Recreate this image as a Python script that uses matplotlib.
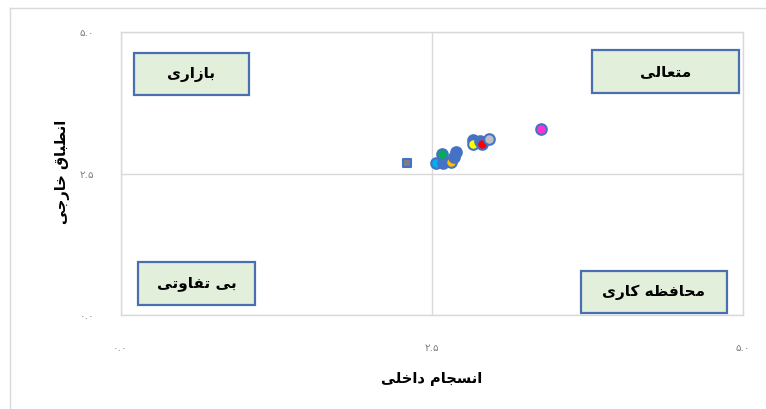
import matplotlib
matplotlib.use("Agg")
import matplotlib.pyplot as plt
from matplotlib.patches import Rectangle
from matplotlib.lines import Line2D
from matplotlib import font_manager
from matplotlib.ft2font import FT2Font

# ---------------- data ----------------
x_vals = [2.305, 2.536, 2.593, 2.582, 2.657, 2.681, 2.697, 2.836, 2.836, 2.89, 2.904, 2.965, 3.38]
y_vals = [2.68, 2.68, 2.685, 2.84, 2.70, 2.80, 2.885, 3.09, 3.03, 3.07, 3.03, 3.11, 3.29]
fill_colors = ["#7F7F7F", "#00B0F0", "#4472C4", "#00B050", "#FFC000", "#4472C4", "#4472C4",
               "#4472C4", "#FFFF00", "#4472C4", "#FF0000", "#BFBFBF", "#FF33CC"]
marker_shapes = ["s"] + ["o"] * 12
tick_values = [0.0, 2.5, 5.0]
tick_labels = ["۰.۰", "۲.۵", "۵.۰"]
quadrant_labels = ["بازاری", "متعالی", "بی تفاوتی", "محافظه کاری"]
x_title = "انسجام داخلی"
y_title = "انطباق خارجی"

# ---------------- minimal Arabic/Persian shaping ----------------
FORMS = {  # iso, fin, ini, med
    "ا": (0xFE8D, 0xFE8E, None, None),
    "ب": (0xFE8F, 0xFE90, 0xFE91, 0xFE92),
    "ت": (0xFE95, 0xFE96, 0xFE97, 0xFE98),
    "ج": (0xFE9D, 0xFE9E, 0xFE9F, 0xFEA0),
    "ح": (0xFEA1, 0xFEA2, 0xFEA3, 0xFEA4),
    "خ": (0xFEA5, 0xFEA6, 0xFEA7, 0xFEA8),
    "د": (0xFEA9, 0xFEAA, None, None),
    "ر": (0xFEAD, 0xFEAE, None, None),
    "ز": (0xFEAF, 0xFEB0, None, None),
    "س": (0xFEB1, 0xFEB2, 0xFEB3, 0xFEB4),
    "ط": (0xFEC1, 0xFEC2, 0xFEC3, 0xFEC4),
    "ظ": (0xFEC5, 0xFEC6, 0xFEC7, 0xFEC8),
    "ع": (0xFEC9, 0xFECA, 0xFECB, 0xFECC),
    "ف": (0xFED1, 0xFED2, 0xFED3, 0xFED4),
    "ق": (0xFED5, 0xFED6, 0xFED7, 0xFED8),
    "ک": (0xFB8E, 0xFB8F, 0xFB90, 0xFB91),
    "ل": (0xFEDD, 0xFEDE, 0xFEDF, 0xFEE0),
    "م": (0xFEE1, 0xFEE2, 0xFEE3, 0xFEE4),
    "ن": (0xFEE5, 0xFEE6, 0xFEE7, 0xFEE8),
    "ه": (0xFEE9, 0xFEEA, 0xFEEB, 0xFEEC),
    "و": (0xFEED, 0xFEEE, None, None),
    "ی": (0xFBFC, 0xFBFD, 0xFBFE, 0xFBFF),
}
FALLBACK = {
    "ک": (0xFED9, 0xFEDA, 0xFEDB, 0xFEDC),
    "ی": (0xFEEF, 0xFEF0, 0xFEF3, 0xFEF4),
}

_fp = font_manager.FontProperties(family="DejaVu Sans", weight="bold")
_font = FT2Font(font_manager.findfont(_fp))
for k, forms in FALLBACK.items():
    if any(_font.get_char_index(c) == 0 for c in FORMS[k] if c):
        FORMS[k] = forms


def dual(ch):
    return ch in FORMS and FORMS[ch][2] is not None


def shape(text):
    out = []
    for i, ch in enumerate(text):
        if ch not in FORMS:
            out.append(ch)
            continue
        prev = text[i - 1] if i > 0 else ""
        nxt = text[i + 1] if i + 1 < len(text) else ""
        jp = dual(prev)
        jn = dual(ch) and nxt in FORMS
        iso, fin, ini, med = FORMS[ch]
        if jp and jn:
            cp = med
        elif jp:
            cp = fin
        elif jn:
            cp = ini
        else:
            cp = iso
        out.append(chr(cp))
    return "".join(reversed(out))


# ---------------- figure ----------------
W, H = 766, 409
fig = plt.figure(figsize=(W / 100, H / 100), dpi=100)
fig.patch.set_facecolor("white")

# outer frame
fig.add_artist(Line2D([10 / W, 1.0], [1 - 8 / H, 1 - 8 / H], transform=fig.transFigure,
                      color="#D9D9D9", lw=1.0))
fig.add_artist(Line2D([10 / W, 10 / W], [0.0, 1 - 8 / H], transform=fig.transFigure,
                      color="#D9D9D9", lw=1.0))

left, right, top, bottom = 120.5, 742.5, 32, 315
ax = fig.add_axes([left / W, 1 - bottom / H, (right - left) / W, (bottom - top) / H])
ax.set_xlim(0, 5)
ax.set_ylim(0, 5)
for s in ax.spines.values():
    s.set_color("#D9D9D9")
    s.set_linewidth(1.0)

ax.set_xticks(tick_values)
ax.set_xticklabels(tick_labels)
ax.set_yticks(tick_values)
ax.set_yticklabels(tick_labels)
ax.tick_params(length=0, labelsize=7.5, labelcolor="#7F7F7F", pad=20)
ax.tick_params(axis="y", pad=19)
ax.grid(True, color="#D9D9D9", lw=1.0)
ax.set_axisbelow(True)

# quadrant boxes (axes fraction)
boxes = [(0.021, 0.777, 0.207, 0.926),
         (0.758, 0.784, 0.994, 0.936),
         (0.028, 0.035, 0.216, 0.187),
         (0.740, 0.007, 0.975, 0.155)]
for (x0, y0, x1, y1), lab in zip(boxes, quadrant_labels):
    ax.add_patch(Rectangle((x0, y0), x1 - x0, y1 - y0, transform=ax.transAxes,
                           facecolor="#E2EFDA", edgecolor="#4A6FB0", lw=1.6, zorder=3,
                           clip_on=False))
    ax.text((x0 + x1) / 2, (y0 + y1) / 2, shape(lab), transform=ax.transAxes,
            ha="center", va="center", fontsize=11, fontweight="bold",
            family="DejaVu Sans", color="black", zorder=4)

# points
for xv, yv, fc, mk in zip(x_vals, y_vals, fill_colors, marker_shapes):
    ax.scatter([xv], [yv], s=58 if mk == "o" else 26, marker=mk, facecolor=fc,
               edgecolor="#4472C4", linewidths=1.5, zorder=5)

fig.text(432 / W, 1 - 378 / H, shape(x_title), ha="center", va="center",
         fontsize=10.5, fontweight="bold", family="DejaVu Sans")
fig.text(63 / W, 1 - 172 / H, shape(y_title), ha="center", va="center", rotation=90,
         fontsize=10.5, fontweight="bold", family="DejaVu Sans")

fig.savefig("out.png", dpi=100)
